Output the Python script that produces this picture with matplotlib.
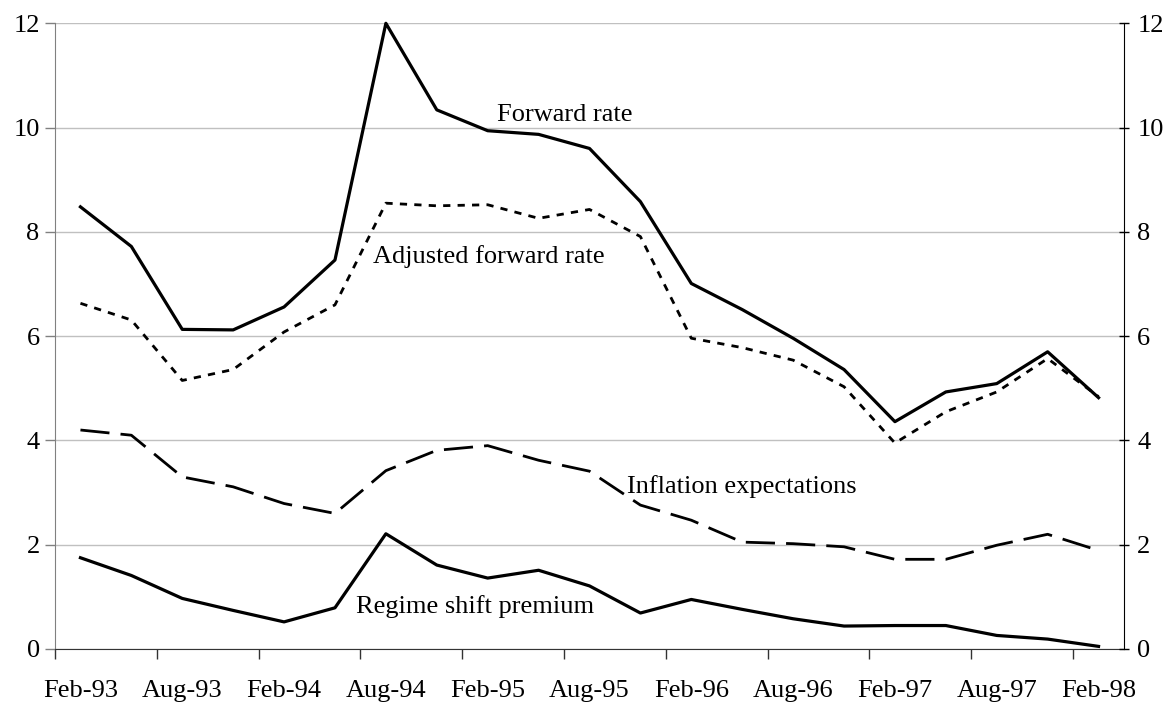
import matplotlib
matplotlib.use("Agg")
import matplotlib.pyplot as plt
import numpy as np

plt.rcParams['font.family'] = ['Liberation Serif', 'DejaVu Serif']

# quarterly observations, Feb-93 .. Feb-98
quarters = ['Feb-93', 'May-93', 'Aug-93', 'Nov-93', 'Feb-94', 'May-94', 'Aug-94',
            'Nov-94', 'Feb-95', 'May-95', 'Aug-95', 'Nov-95', 'Feb-96', 'May-96',
            'Aug-96', 'Nov-96', 'Feb-97', 'May-97', 'Aug-97', 'Nov-97', 'Feb-98']

forward_rate = [8.48, 7.72, 6.13, 6.12, 6.56, 7.46, 12.0, 10.34, 9.94, 9.87, 9.60,
                8.58, 7.01, 6.51, 5.96, 5.36, 4.36, 4.93, 5.09, 5.70, 4.82]
adjusted_forward = [6.63, 6.31, 5.15, 5.36, 6.08, 6.60, 8.55, 8.50, 8.52, 8.26, 8.43,
                    7.91, 5.96, 5.78, 5.54, 5.03, 3.95, 4.55, 4.93, 5.57, 4.84]
inflation_exp = [4.20, 4.10, 3.30, 3.11, 2.79, 2.60, 3.42, 3.81, 3.90, 3.62, 3.41,
                 2.76, 2.47, 2.05, 2.02, 1.96, 1.72, 1.72, 1.99, 2.20, 1.89]
regime_premium = [1.75, 1.41, 0.97, 0.74, 0.52, 0.79, 2.21, 1.61, 1.36, 1.51, 1.21,
                  0.69, 0.95, 0.76, 0.58, 0.44, 0.45, 0.45, 0.26, 0.19, 0.05]

x = np.arange(len(quarters))

fig = plt.figure(figsize=(11.75, 7.02), dpi=100)
ax = fig.add_axes([0.0468, 0.0755, 0.9098, 0.8913])

fs = 19
ax.plot(x, forward_rate, color='black', lw=2.3, clip_on=False)
ax.plot(x, adjusted_forward, color='black', lw=2.0, ls=(0, (2.6, 2.6)))
ax.plot(x, inflation_exp, color='black', lw=2.0, ls=(0, (10.5, 4)))
ax.plot(x, regime_premium, color='black', lw=2.3)

ax.text(8.18, 10.13, 'Forward rate', fontsize=fs, ha='left', va='baseline')
ax.text(5.75, 7.41, 'Adjusted forward rate', fontsize=fs, ha='left', va='baseline')
ax.text(10.73, 2.99, 'Inflation expectations', fontsize=fs, ha='left', va='baseline')
ax.text(5.41, 0.69, 'Regime shift premium', fontsize=fs, ha='left', va='baseline')

ax.set_xlim(-0.5, len(quarters) - 0.5)
ax.set_ylim(0, 12)
ax.set_yticks(np.arange(0, 13, 2))
ax.yaxis.grid(True, color='#c0c0c0', lw=1.0)
ax.set_axisbelow(True)

ax.set_xticks(x[::2])
ax.set_xticklabels(quarters[::2], fontsize=fs)
ax.set_xticks(np.arange(-0.5, len(quarters) - 1, 2), minor=True)
ax.tick_params(axis='x', which='major', length=0, pad=22)
ax.tick_params(axis='x', which='minor', length=7, width=1.0, color='#333333', direction='out')
ax.tick_params(axis='y', which='major', length=7, width=1.0, color='#808080',
               labelsize=fs, pad=4)

ax.spines['top'].set_visible(False)
ax.spines['left'].set_color('#808080')
ax.spines['bottom'].set_color('#333333')
ax.spines['right'].set_visible(False)

# right-hand axis mirrors the left
ax2 = ax.twinx()
ax2.set_ylim(0, 12)
ax2.set_yticks(np.arange(0, 13, 2))
ax2.tick_params(axis='y', length=7, width=1.0, direction='inout', color='black',
                labelsize=fs, pad=6)
for s in ['top', 'left', 'bottom']:
    ax2.spines[s].set_visible(False)
ax2.spines['right'].set_color('black')

fig.savefig('out.png', dpi=100)
